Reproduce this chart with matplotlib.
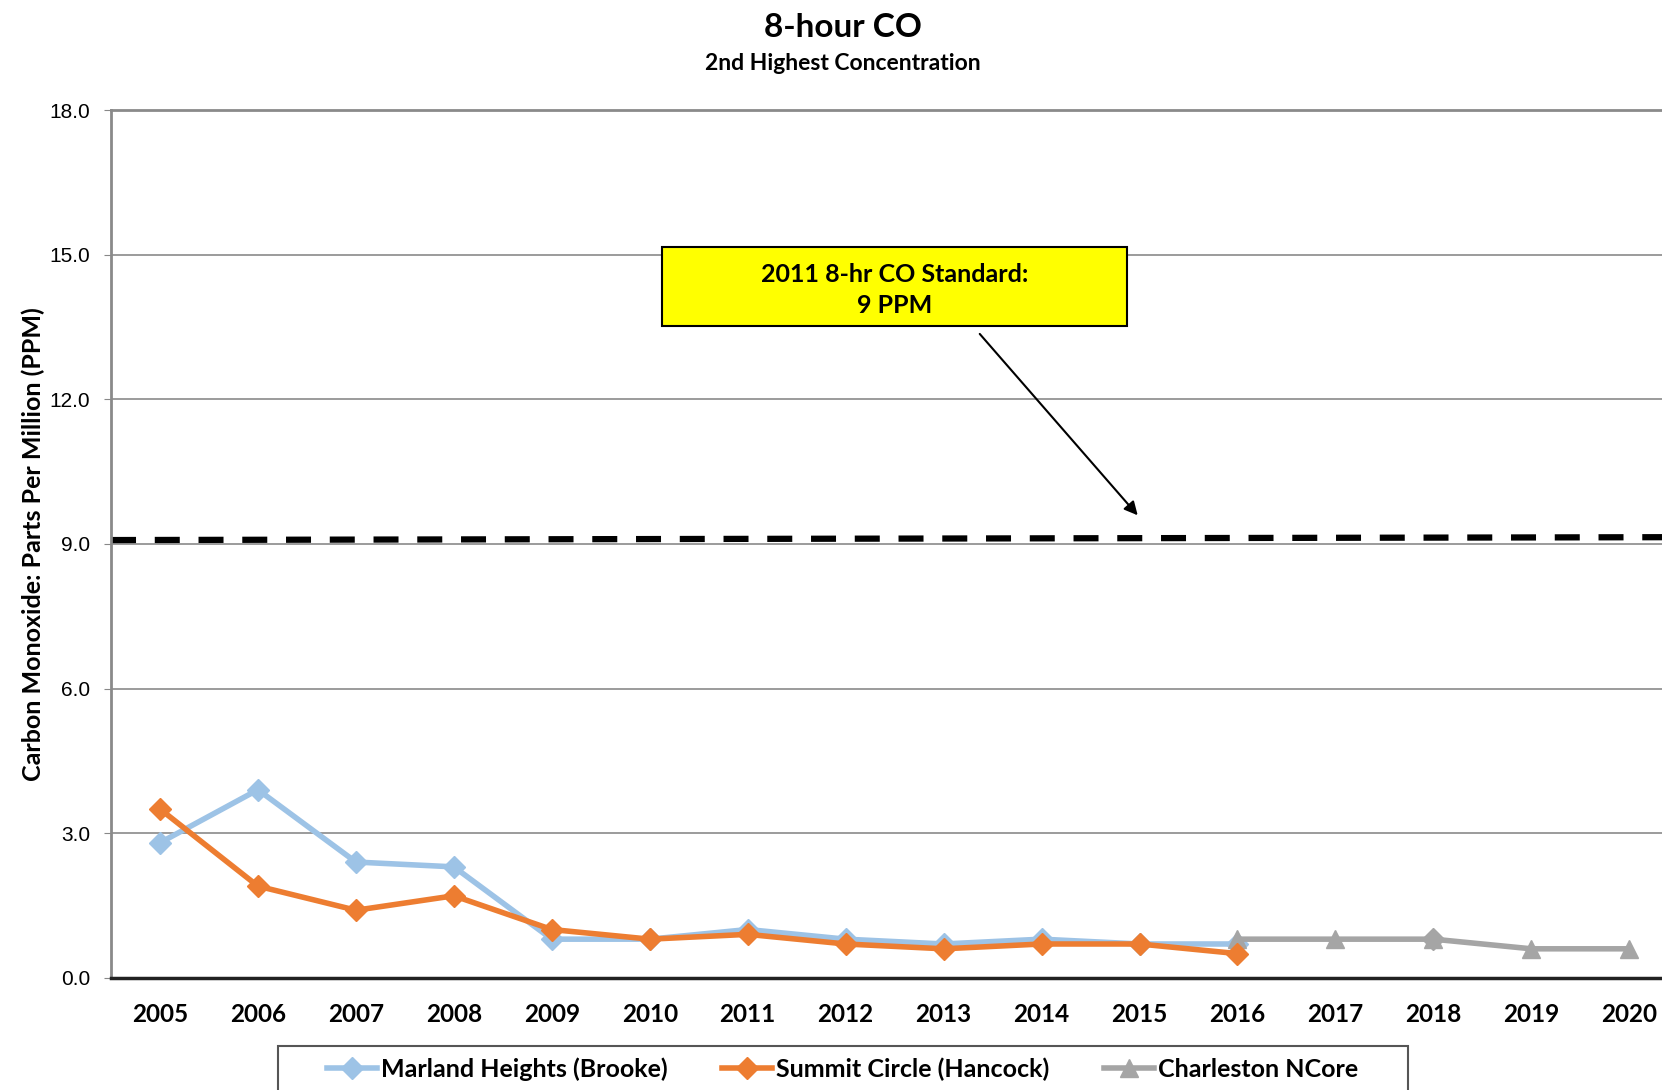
import matplotlib.pyplot as plt
from matplotlib.patches import Rectangle

years = [str(y) for y in range(2005, 2021)]

marland = [2.8, 3.9, 2.4, 2.3, 0.8, 0.8, 1.0, 0.8, 0.7, 0.8, 0.7, 0.7]
summit = [3.5, 1.9, 1.4, 1.7, 1.0, 0.8, 0.9, 0.7, 0.6, 0.7, 0.7, 0.5]
charleston_years = ["2016", "2017", "2018", "2019", "2020"]
charleston = [0.8, 0.8, 0.8, 0.6, 0.6]

standard = [9.08, 9.14]
y_ticks = [0.0, 3.0, 6.0, 9.0, 12.0, 15.0, 18.0]

label_font = ["Lato", "DejaVu Sans"]

fig = plt.figure(figsize=(16.62, 10.90), dpi=100)
ax = fig.add_axes([0.0668, 0.103, 0.943, 0.796])

x = list(range(len(years)))
pos = {y: i for i, y in enumerate(years)}

ax.plot(x[:len(marland)], marland, color="#9DC3E6", lw=4, marker="D", ms=11,
        label="Marland Heights (Brooke)", zorder=3)
ax.plot(x[:len(summit)], summit, color="#ED7D31", lw=4, marker="D", ms=11,
        label="Summit Circle (Hancock)", zorder=4)
cx = [pos[y] for y in charleston_years]
ax.plot(cx, charleston, color="#A5A5A5", lw=4, marker="^", ms=13,
        label="Charleston NCore", zorder=3)
# 2018 point is drawn with a diamond in the original
ax.plot([cx[2]], [charleston[2]], color="#A5A5A5", marker="D", ms=11, ls="none", zorder=5)

# standard line
ax.plot([-0.5, 15.5], standard, color="black", lw=4.5, ls=(0, (4, 3)), zorder=2)

ax.set_xlim(-0.5, 15.5)
ax.set_ylim(0, 18)
ax.set_yticks(y_ticks)
ax.set_yticklabels([f"{v:.1f}" for v in y_ticks], fontsize=15, family="Liberation Sans")
ax.set_xticks(x)
ax.set_xticklabels(years, fontsize=17.5, fontweight="bold", family=label_font)
ax.tick_params(axis="x", length=0, pad=18)
ax.tick_params(axis="y", length=5, color="#888888", pad=10)
ax.grid(axis="y", color="#8a8a8a", lw=1.2)
ax.set_axisbelow(True)

for s in ["top", "left", "right"]:
    ax.spines[s].set_color("#8a8a8a")
    ax.spines[s].set_linewidth(2)
ax.spines["bottom"].set_color("#222222")
ax.spines["bottom"].set_linewidth(2.5)

ax.set_ylabel("Carbon Monoxide: Parts Per Million (PPM)", fontsize=18,
              fontweight="bold", family=label_font, labelpad=3)

fig.text(0.507, 0.975, "8-hour CO", ha="center", va="center", fontsize=24,
         fontweight="bold", family=label_font)
fig.text(0.507, 0.942, "2nd Highest Concentration", ha="center", va="center",
         fontsize=16.5, fontweight="bold", family=label_font)

# standard annotation box
ax.add_patch(Rectangle((5.12, 13.53), 4.75, 1.62, fc="#FFFF00", ec="black", lw=1.5, zorder=6))
ax.text(7.5, 14.27, "2011 8-hr CO Standard:\n9 PPM", ha="center", va="center",
        fontsize=18, fontweight="bold", family=label_font, linespacing=1.45, zorder=7)
ax.annotate("", xy=(10.0, 9.55), xytext=(8.35, 13.4),
            arrowprops=dict(arrowstyle="-|>", color="black", lw=1.5, mutation_scale=20))

leg = fig.legend(loc="center", bbox_to_anchor=(0.507, 0.019), ncol=3,
                 frameon=False, prop=dict(family=label_font, weight="bold", size=18),
                 columnspacing=2.2, handlelength=2.0, handletextpad=0.15)
fig.patches.append(Rectangle((278 / 1662, -0.05), 1130 / 1662, 0.05 + 44 / 1090,
                             transform=fig.transFigure, fill=False, ec="#555555", lw=1.5))

fig.savefig("out.png", dpi=100)
